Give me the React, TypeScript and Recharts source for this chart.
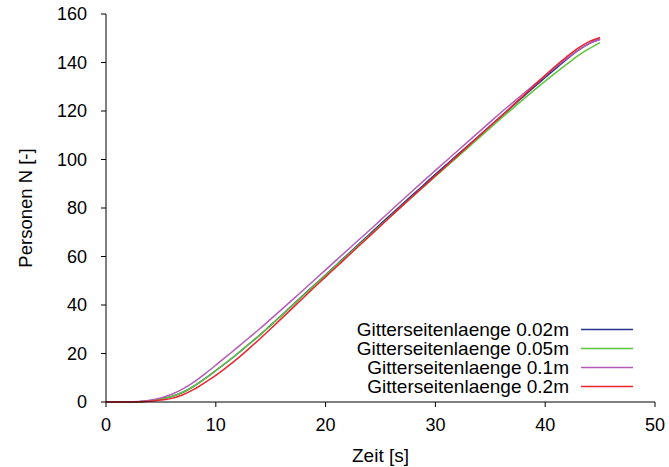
import { LineChart, Line, XAxis, YAxis, Legend } from 'recharts';

const time = [
  0, 1, 2, 3, 4, 5, 6, 7, 8, 9, 10, 11, 12, 13, 14, 15, 16, 17, 18, 19, 20, 21, 22,
  23, 24, 25, 26, 27, 28, 29, 30, 31, 32, 33, 34, 35, 36, 37, 38, 39, 40, 41, 42, 43, 44, 45,
];

const grid002 = [
  0, 0, 0, 0.1, 0.5, 1.2, 2.3, 4, 6.5, 9.6, 13, 16.4, 20, 23.8, 27.6, 31.7, 35.8, 40, 44.2,
  48.3, 52.4, 56.6, 60.8, 65, 69.2, 73.4, 77.5, 81.6, 85.7, 89.8, 93.9, 97.9, 101.9, 105.9,
  109.9, 113.9, 117.9, 121.9, 125.9, 129.9, 133.8, 137.7, 141.5, 145, 147.8, 149.6,
];
const grid005 = [
  0, 0, 0, 0.1, 0.5, 1.2, 2.3, 4, 6.5, 9.5, 12.9, 16.4, 20, 23.8, 27.6, 31.6, 35.7, 39.9, 44,
  48.2, 52.3, 56.4, 60.5, 64.6, 68.7, 72.8, 76.9, 81, 85, 89, 93, 97, 101, 105, 109, 113, 117,
  120.9, 124.8, 128.6, 132.3, 135.9, 139.4, 142.8, 145.7, 148.2,
];
const grid01 = [
  0, 0, 0, 0.2, 0.7, 1.7, 3.2, 5.4, 8.2, 11.6, 15.2, 18.9, 22.6, 26.4, 30.2, 34.2, 38.2, 42.2,
  46.3, 50.4, 54.5, 58.6, 62.7, 66.8, 70.8, 75, 79.2, 83.3, 87.4, 91.5, 95.5, 99.5, 103.5,
  107.5, 111.5, 115.5, 119.5, 123.3, 127.1, 130.9, 134.6, 138.3, 141.8, 145, 147.8, 149.6,
];
const grid02 = [
  0, 0, 0, 0.1, 0.3, 0.8, 1.5, 3, 5.2, 8, 11, 14.4, 18, 21.9, 26, 30.2, 34.5, 38.8, 43.1, 47.4,
  51.6, 55.8, 60, 64.2, 68.4, 72.6, 76.8, 81, 85.1, 89.2, 93.3, 97.4, 101.5, 105.6, 109.7,
  113.8, 117.9, 122.1, 126.3, 130.5, 134.7, 138.7, 142.5, 145.9, 148.6, 150.3,
];

const xTicks = [0, 10, 20, 30, 40, 50];
const yTicks = [0, 20, 40, 60, 80, 100, 120, 140, 160];

const series = [
  { key: 'g002', name: 'Gitterseitenlaenge 0.02m', color: '#27358f', values: grid002 },
  { key: 'g005', name: 'Gitterseitenlaenge 0.05m', color: '#5ec43c', values: grid005 },
  { key: 'g01', name: 'Gitterseitenlaenge 0.1m', color: '#b35cb5', values: grid01 },
  { key: 'g02', name: 'Gitterseitenlaenge 0.2m', color: '#ea2530', values: grid02 },
];

const data = time.map((t, i) => {
  const row: Record<string, number> = { t };
  series.forEach((s) => {
    row[s.key] = s.values[i];
  });
  return row;
});

const font = '"Liberation Sans", Arial, Helvetica, sans-serif';

const LegendBox = () => (
  <div style={{ fontFamily: font, fontSize: 19, color: '#000' }}>
    {series.map((s) => (
      <div
        key={s.key}
        style={{ display: 'flex', justifyContent: 'flex-end', alignItems: 'center', height: 19, lineHeight: '19px' }}
      >
        <span>{s.name}</span>
        <svg width={64} height={19} style={{ display: 'block' }}>
          <line x1={12} x2={64} y1={9.5} y2={9.5} stroke={s.color} strokeWidth={1.5} />
        </svg>
      </div>
    ))}
  </div>
);

export default function App() {
  return (
    <div style={{ position: 'absolute', left: 0, top: 0, width: 669, height: 467, background: '#fff' }}>
      <LineChart width={669} height={467} data={data} margin={{ top: 14, right: 14, left: 46, bottom: 25 }}>
        <XAxis
          dataKey="t"
          type="number"
          domain={[0, 50]}
          ticks={xTicks}
          height={40}
          stroke="#000"
          tickSize={5}
          tickMargin={11}
          tick={{ fill: '#000', fontSize: 18, fontFamily: font }}
          label={{ value: 'Zeit [s]', position: 'insideBottom', offset: -20, fill: '#000', fontSize: 19, fontFamily: font }}
        />
        <YAxis
          type="number"
          domain={[0, 160]}
          ticks={yTicks}
          width={60}
          stroke="#000"
          tickSize={5}
          tickMargin={14}
          tick={{ fill: '#000', fontSize: 18, fontFamily: font }}
          label={{
            value: 'Personen N [-]',
            angle: -90,
            position: 'insideLeft',
            offset: -21,
            style: { textAnchor: 'middle' },
            fill: '#000',
            fontSize: 18.5,
            fontFamily: font,
          }}
        />
        <Legend
          layout="horizontal"
          verticalAlign="middle"
          align="center"
          content={() => <LegendBox />}
          wrapperStyle={{ left: 300, top: 320, width: 333, height: 76 }}
        />
        {series.map((s) => (
          <Line
            key={s.key}
            type="monotone"
            dataKey={s.key}
            name={s.name}
            stroke={s.color}
            strokeWidth={1.5}
            dot={false}
            isAnimationActive={false}
          />
        ))}
      </LineChart>
    </div>
  );
}
